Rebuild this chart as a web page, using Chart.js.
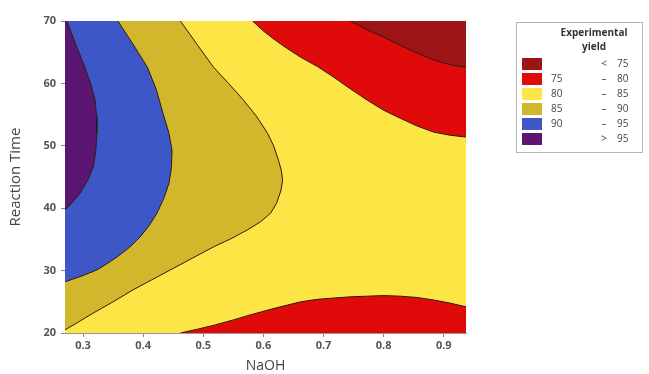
<!DOCTYPE html>
<html>
<head>
<meta charset="utf-8">
<script src="https://cdn.jsdelivr.net/npm/chart.js@4/dist/chart.umd.min.js"></script>
<style>
  html, body { margin: 0; padding: 0; background: #fff; }
  #wrap { width: 649px; height: 374px; }
</style>
</head>
<body>
<div id="wrap"><canvas id="chart" width="649" height="374"></canvas></div>
<script>
// axis ranges and tick labels
const xMin = 0.27, xMax = 0.937;
const yMin = 20, yMax = 70;
const xTicks = [0.3, 0.4, 0.5, 0.6, 0.7, 0.8, 0.9];
const yTicks = [20, 30, 40, 50, 60, 70];

// contour lines, [NaOH, Reaction Time]
const c95 = [[0.273, 70], [0.289, 66], [0.303, 62.6], [0.314, 59.5], [0.32, 57.3], [0.323, 54.5], [0.323, 52], [0.321, 49], [0.317, 46.6], [0.308, 44.5], [0.295, 42.4], [0.283, 41], [0.27, 39.7]];
const c90 = [[0.358, 70], [0.385, 66], [0.407, 62.6], [0.422, 59], [0.433, 55.2], [0.443, 52], [0.448, 49.3], [0.447, 46.5], [0.443, 44], [0.434, 41.5], [0.423, 39.2], [0.41, 37.2], [0.395, 35.4], [0.377, 33.7], [0.357, 32.2], [0.34, 31.1], [0.323, 30.1], [0.297, 29.1], [0.27, 28.2]];
const c85 = [[0.462, 70], [0.49, 66.2], [0.517, 62.6], [0.543, 59.9], [0.567, 57.3], [0.588, 54.8], [0.607, 52], [0.617, 50], [0.625, 47.7], [0.63, 46], [0.632, 44.5], [0.629, 42.8], [0.622, 40.8], [0.612, 39.2], [0.595, 37.8], [0.573, 36.5], [0.546, 35.1], [0.517, 33.8], [0.482, 32], [0.445, 30.1], [0.414, 28.5], [0.383, 26.9], [0.35, 25], [0.317, 23.2], [0.293, 21.8], [0.27, 20.5]];
const c80Top = [[0.582, 70], [0.6, 68.4], [0.62, 66.9], [0.641, 65.5], [0.662, 64.2], [0.69, 62.7], [0.717, 61], [0.745, 59.1], [0.773, 57.3], [0.8, 55.7], [0.828, 54.4], [0.855, 53.2], [0.883, 52.2], [0.91, 51.7], [0.937, 51.4]];
const c80Bottom = [[0.462, 20], [0.49, 20.6], [0.52, 21.3], [0.55, 22.1], [0.578, 22.9], [0.62, 24], [0.662, 25], [0.69, 25.4], [0.717, 25.6], [0.745, 25.8], [0.773, 25.9], [0.8, 26], [0.828, 25.9], [0.855, 25.7], [0.883, 25.3], [0.91, 24.8], [0.937, 24.2]];
const c75 = [[0.745, 70], [0.772, 68.6], [0.8, 67.4], [0.83, 66], [0.857, 64.8], [0.877, 64], [0.895, 63.4], [0.915, 62.9], [0.937, 62.6]];

// legend
const legendTitle = ['Experimental', 'yield'];
const legendLow = ['', '75', '80', '85', '90', ''];
const legendSep = ['<', '\u2013', '\u2013', '\u2013', '\u2013', '>'];
const legendHigh = ['75', '80', '85', '90', '95', '95'];
const levelColors = ['#9c1414', '#e00a0a', '#fde546', '#d2b72c', '#3d58c6', '#5a1670'];

const toPts = arr => arr.map(p => ({ x: p[0], y: p[1] }));

const region = (pts, color) => ({
    data: toPts(pts),
    showLine: true,
    fill: 'shape',
    backgroundColor: color,
    borderWidth: 0,
    pointRadius: 0,
    tension: 0
});

const contour = pts => ({
    data: toPts(pts),
    showLine: true,
    fill: false,
    borderColor: '#2b1d12',
    borderWidth: 1,
    pointRadius: 0,
    tension: 0
});

// first dataset is drawn on top
const datasets = [
    contour(c95), contour(c90), contour(c85), contour(c80Top), contour(c80Bottom), contour(c75),
    region(c95.concat([[xMin, yMax]]), levelColors[5]),
    region(c90.concat([[xMin, yMax]]), levelColors[4]),
    region(c85.concat([[xMin, yMax]]), levelColors[3]),
    region(c75.concat([[xMax, yMax]]), levelColors[0]),
    region(c80Top.concat([[xMax, yMax]]), levelColors[1]),
    region(c80Bottom.concat([[xMax, yMin]]), levelColors[1]),
    region([[xMin, yMin], [xMax, yMin], [xMax, yMax], [xMin, yMax]], levelColors[2])
];

const legendPlugin = {
    id: 'yieldLegend',
    afterDraw(chart) {
        const ctx = chart.ctx;
        ctx.save();
        ctx.strokeStyle = '#b5b5b5';
        ctx.lineWidth = 1;
        ctx.strokeRect(516.5, 22.5, 126, 130);
        ctx.fillStyle = '#333';
        ctx.font = 'bold 10px "Open Sans"';
        ctx.textAlign = 'center';
        ctx.textBaseline = 'middle';
        ctx.fillText(legendTitle[0], 594, 33);
        ctx.fillText(legendTitle[1], 594, 47);
        ctx.font = '10px "Open Sans"';
        levelColors.forEach((c, i) => {
            const yc = 64 + i * 15;
            ctx.fillStyle = c;
            ctx.fillRect(522, yc - 6, 20, 12);
            ctx.fillStyle = '#444';
            ctx.textAlign = 'left';
            ctx.fillText(legendLow[i], 551, yc);
            ctx.textAlign = 'center';
            ctx.fillText(legendSep[i], 604, yc);
            ctx.textAlign = 'left';
            ctx.fillText(legendHigh[i], 617, yc);
        });
        ctx.restore();
    }
};

new Chart(document.getElementById('chart'), {
    type: 'scatter',
    data: { datasets },
    plugins: [legendPlugin],
    options: {
        responsive: false,
        animation: false,
        events: [],
        layout: { padding: { top: 21, right: 183, bottom: 0, left: 0 } },
        plugins: { legend: { display: false }, tooltip: { enabled: false } },
        scales: {
            x: {
                type: 'linear',
                min: xMin,
                max: xMax,
                afterBuildTicks: s => { s.ticks = xTicks.map(v => ({ value: v })); },
                afterFit: s => { s.height = 41; },
                grid: { drawOnChartArea: false, tickLength: 4, color: '#888' },
                border: { color: '#999' },
                ticks: { color: '#555', font: { family: 'Open Sans', size: 11, weight: 'bold' }, padding: 2, callback: v => v.toFixed(1) },
                title: { display: true, text: 'NaOH', color: '#444', font: { family: 'Open Sans', size: 14 }, padding: { top: 0, bottom: 0 } }
            },
            y: {
                type: 'linear',
                min: yMin,
                max: yMax,
                afterBuildTicks: s => { s.ticks = yTicks.map(v => ({ value: v })); },
                afterFit: s => { s.width = 65; },
                grid: { drawOnChartArea: false, tickLength: 4, color: '#888' },
                border: { color: '#999' },
                ticks: { color: '#555', font: { family: 'Open Sans', size: 11, weight: 'bold' }, padding: 5 },
                title: { display: true, text: 'Reaction Time', color: '#444', font: { family: 'Open Sans', size: 15 }, padding: { top: 7, bottom: 0 } }
            }
        }
    }
});
</script>
</body>
</html>
